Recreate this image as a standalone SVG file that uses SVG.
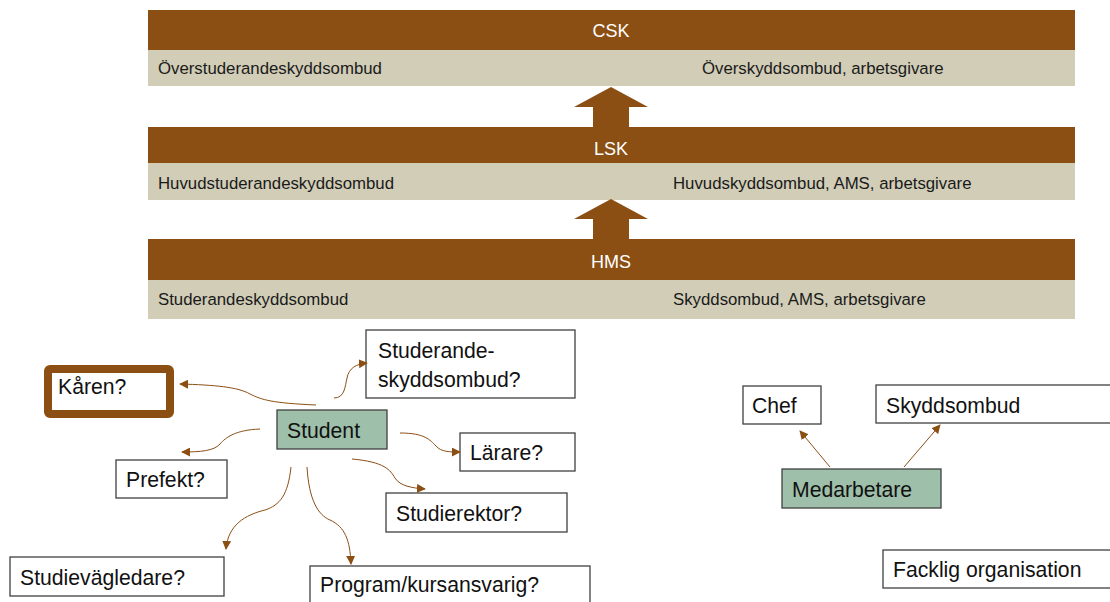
<svg xmlns="http://www.w3.org/2000/svg" width="1110" height="602" viewBox="0 0 1110 602">
<defs>
<style>
.bar{fill:#8B4F14}
.sub{fill:#D1CDB7}
.bt{font-family:"Liberation Sans",Arial,sans-serif;font-size:18px;fill:#ffffff;text-anchor:middle}
.st{font-family:"Liberation Sans",Arial,sans-serif;font-size:16.8px;fill:#1a1a1a}
.box{fill:#ffffff;stroke:#404040;stroke-width:1.3}
.gbox{fill:#9EBFA9;stroke:#404040;stroke-width:1.3}
.nt{font-family:"Liberation Sans",Arial,sans-serif;font-size:21.2px;fill:#111111}
.con{fill:none;stroke:#8B4F14;stroke-width:1;marker-end:url(#ah)}
</style>
<marker id="ah" viewBox="0 0 10 10" refX="9" refY="5" markerWidth="9" markerHeight="9" markerUnits="userSpaceOnUse" orient="auto">
<path d="M0,0 L10,5 L0,10 Z" fill="#8B4F14"/>
</marker>
</defs>
<rect width="1110" height="602" fill="#ffffff"/>

<g id="csk">
<rect class="bar" x="148" y="10" width="927" height="40"/>
<rect class="sub" x="148" y="50" width="927" height="36"/>
<text class="bt" x="611" y="37">CSK</text>
<text class="st" x="158" y="74">Överstuderandeskyddsombud</text>
<text class="st" x="702" y="74">Överskyddsombud, arbetsgivare</text>
</g>
<g id="lsk">
<rect class="bar" x="148" y="127" width="927" height="36"/>
<rect class="sub" x="148" y="163" width="927" height="37"/>
<text class="bt" x="611" y="155">LSK</text>
<text class="st" x="158" y="189">Huvudstuderandeskyddsombud</text>
<text class="st" x="673" y="189">Huvudskyddsombud, AMS, arbetsgivare</text>
</g>
<g id="hms">
<rect class="bar" x="148" y="239" width="927" height="41"/>
<rect class="sub" x="148" y="280" width="927" height="39"/>
<text class="bt" x="611" y="268">HMS</text>
<text class="st" x="158" y="305">Studerandeskyddsombud</text>
<text class="st" x="673" y="305">Skyddsombud, AMS, arbetsgivare</text>
</g>
<g id="up-arrows">
<path class="bar" d="M611,87 L648,107 L629,107 L629,127 L593,127 L593,107 L574,107 Z"/>
<path class="bar" d="M611,199 L648,219 L629,219 L629,239 L593,239 L593,219 L574,219 Z"/>
</g>

<g id="karen">
<rect x="48" y="369" width="122" height="45" rx="2" fill="#ffffff" stroke="#8B4F14" stroke-width="8"/>
<text class="nt" x="58" y="394">Kåren?</text>
</g>
<g id="studerandeskyddsombud">
<rect class="box" x="366" y="330" width="209" height="68"/>
<text class="nt" x="378" y="358">Studerande-</text>
<text class="nt" x="378" y="387">skyddsombud?</text>
</g>
<g id="student">
<rect class="gbox" x="277" y="410" width="110" height="39"/>
<text class="nt" x="287" y="438">Student</text>
</g>
<g id="larare">
<rect class="box" x="460" y="433" width="115" height="38"/>
<text class="nt" x="470" y="460">Lärare?</text>
</g>
<g id="prefekt">
<rect class="box" x="116" y="460" width="111" height="38"/>
<text class="nt" x="126" y="487">Prefekt?</text>
</g>
<g id="studierektor">
<rect class="box" x="386" y="493" width="181" height="39"/>
<text class="nt" x="396" y="521">Studierektor?</text>
</g>
<g id="studievagledare">
<rect class="box" x="10" y="557" width="214" height="39"/>
<text class="nt" x="20" y="585">Studievägledare?</text>
</g>
<g id="program">
<rect class="box" x="310" y="566" width="280" height="40"/>
<text class="nt" x="320" y="592">Program/kursansvarig?</text>
</g>
<g id="chef">
<rect class="box" x="743" y="386" width="78" height="38"/>
<text class="nt" x="752" y="413">Chef</text>
</g>
<g id="skyddsombud">
<rect class="box" x="876" y="385" width="240" height="38"/>
<text class="nt" x="886" y="413">Skyddsombud</text>
</g>
<g id="medarbetare">
<rect class="gbox" x="782" y="469" width="159" height="39"/>
<text class="nt" x="792" y="497">Medarbetare</text>
</g>
<g id="facklig">
<rect class="box" x="883" y="550" width="233" height="38"/>
<text class="nt" x="893" y="577">Facklig organisation</text>
</g>

<g id="connectors">
<path class="con" d="M316,405 C272,403 262,400 250,394 C238,387 215,385 180,384"/>
<path class="con" d="M334,398 C345,398 345,386 347,378 C349,368 356,364 367,363"/>
<path class="con" d="M260,429 C236,430 226,437 220,444 C214,451 200,452 182,452"/>
<path class="con" d="M400,433 C425,433 430,440 436,446 C441,452 450,452 460,452"/>
<path class="con" d="M352,459 C385,462 390,470 395,478 C400,486 412,488 425,489"/>
<path class="con" d="M291,467 C288,495 280,505 265,510 C245,515 228,525 226,549"/>
<path class="con" d="M307,467 C309,500 318,515 330,520 C345,527 350,540 351,564"/>
<path class="con" d="M830,467 L800,431"/>
<path class="con" d="M904,467 L940,425"/>
</g>
</svg>
